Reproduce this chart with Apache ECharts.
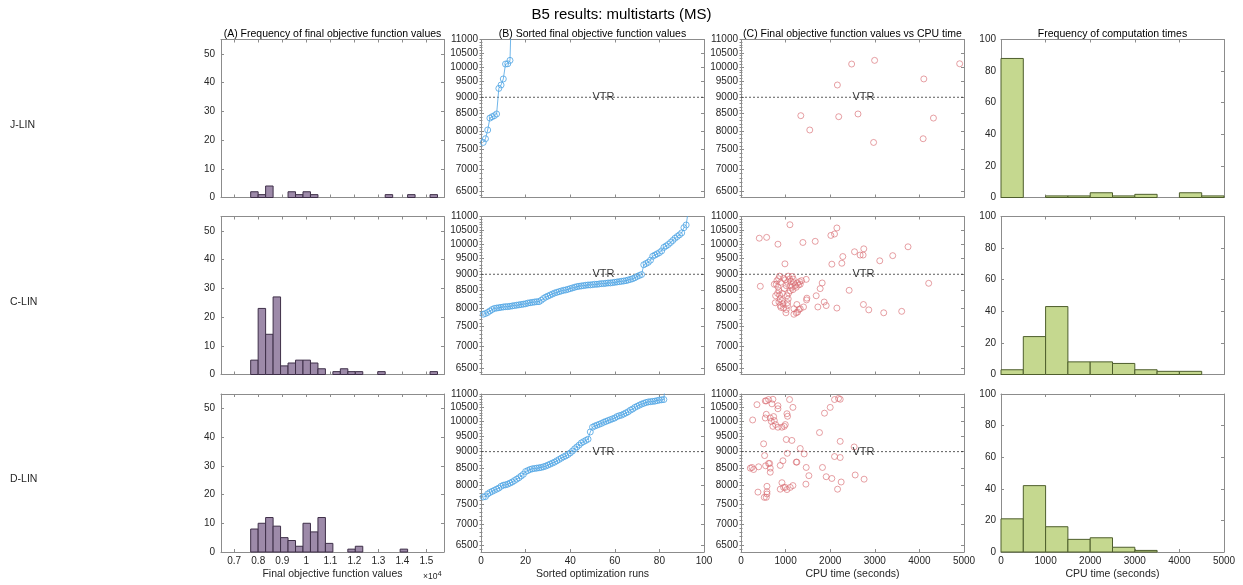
<!DOCTYPE html>
<html>
<head>
<meta charset="utf-8">
<script src="https://cdn.jsdelivr.net/npm/echarts@6/dist/echarts.min.js"></script>
<style>
  html, body { margin: 0; padding: 0; background: #ffffff; }
  #chart { width: 1243px; height: 585px; }
</style>
</head>
<body>
<div id="chart"></div>
<script>
// ---------- data ----------
const figureTitle = 'B5 results: multistarts (MS)';
const rowLabels = ['J-LIN', 'C-LIN', 'D-LIN'];
const panelTitles = [
  '(A) Frequency of final objective function values',
  '(B) Sorted final objective function values',
  '(C) Final objective function values vs CPU time',
  'Frequency of computation times'
];
const xAxisNames = [
  'Final objective function values',
  'Sorted optimization runs',
  'CPU time (seconds)',
  'CPU time (seconds)'
];

// (A) histogram of final objective values: shared bin edges
const objBinStart = 7685;
const objBinWidth = 311;
const objCountsJ = [2, 1, 4, 0, 0, 2, 1, 2, 1, 0, 0, 0, 0, 0, 0, 0, 0, 0, 1, 0, 0, 1, 0, 0, 1];
const objCountsC = [5, 23, 14, 27, 3, 4, 5, 5, 4, 2, 0, 1, 2, 1, 1, 0, 0, 1, 0, 0, 0, 0, 0, 0, 1];
const objCountsD = [8, 10, 12, 9, 5, 4, 2, 10, 7, 12, 3, 0, 0, 1, 2, 0, 0, 0, 0, 0, 1, 0, 0, 0, 0];
const objHistTicks = [7000, 8000, 9000, 10000, 11000, 12000, 13000, 14000, 15000];

// (B) sorted final objective values per run
const sortedJ = [7690, 7790, 8030, 8370, 8410, 8440, 8490, 9280, 9390, 9590, 10100, 10110, 10230,
  13400, 14300, 15300];
const sortedC = [7830, 7850, 7880, 7920, 7960,
  7990, 8000, 8010, 8020, 8030, 8040, 8040, 8050, 8060, 8070, 8080, 8090, 8100, 8110, 8120, 8140,
  8150, 8160, 8170, 8180, 8180, 8220, 8270,
  8310, 8340, 8370, 8400, 8430, 8450, 8470, 8490, 8510, 8520, 8540, 8560, 8580, 8600,
  8620, 8630, 8640, 8650, 8660, 8670, 8670, 8680, 8690, 8690, 8700, 8710, 8710, 8720, 8730, 8730,
  8740, 8750, 8760, 8770, 8780, 8790, 8800, 8820, 8840, 8860, 8890,
  8930, 8960, 8990,
  9300, 9340, 9380, 9450,
  9580, 9620, 9660, 9700, 9760,
  9880, 9930, 9980, 10050, 10120,
  10200, 10260, 10320, 10390,
  10580, 10680,
  11250, 11500, 11600, 11900, 12200, 13200, 15300];
const sortedD = [7690, 7700, 7770, 7810, 7840, 7870, 7900, 7930,
  7980, 8010, 8020, 8040, 8070, 8100, 8140, 8180, 8220, 8270,
  8320, 8400, 8430, 8460, 8480, 8490, 8500, 8510, 8520, 8540, 8560, 8590,
  8620, 8650, 8680, 8720, 8760, 8800, 8840, 8870, 8910,
  8960, 9020, 9090, 9150, 9210,
  9280, 9320, 9360, 9400,
  9640, 9800,
  9840, 9870, 9900, 9930, 9970, 10000, 10030, 10060, 10090, 10120,
  10170, 10200, 10220, 10260, 10300, 10340, 10400,
  10440, 10500, 10540, 10580, 10620, 10650, 10680, 10700, 10710, 10720, 10730, 10750,
  10770, 10780, 10790,
  11900, 12100, 12200, 14000];

// (C) [CPU time (s), final objective value] per run
const cpuObjJ = [[1341, 8440], [1542, 8030], [2161, 9390], [2191, 8410], [2481, 10100], [2623, 8490],
  [2996, 10230], [2973, 7690], [4099, 9590], [4084, 7790], [4315, 8370], [4903, 10110]];
const cpuObjC = [
  [410, 10200], [575, 10230], [828, 9990], [433, 8630], [746, 8690], [768, 8150], [985, 9330],
  [1097, 10690], [1388, 10050], [1664, 10090], [2015, 10300], [2097, 10350], [2150, 10570],
  [2037, 9320], [2261, 9350], [2283, 9570], [2425, 8510], [2545, 9730], [2671, 9620], [2738, 9620],
  [2753, 9830], [3111, 9430], [3402, 9600], [3745, 9900], [4208, 8720], [2745, 8100], [2865, 7950],
  [3200, 7870], [3603, 7910], [2150, 8000], [1865, 8170], [1910, 8070], [1723, 8030], [1686, 8350],
  [1775, 8560], [1820, 8730], [1470, 8230], [1477, 8280], [1462, 8840], [1358, 8800], [1402, 8030],
  [1328, 7980], [1253, 8100], [1238, 7870], [1186, 7830],
  [791, 8690], [806, 8800], [843, 8860], [865, 8940], [888, 8750], [828, 8610], [850, 8500],
  [820, 8420], [865, 8370], [776, 8350], [880, 8260], [918, 8210], [850, 8170], [940, 8120],
  [880, 8070], [895, 8020], [955, 8000], [1015, 7960], [1007, 7870], [1044, 8070], [1044, 8150],
  [1059, 8260], [1030, 8350], [1067, 8430], [1104, 8500], [970, 8560], [1015, 8650], [1044, 8750],
  [993, 8830], [1089, 8850], [1119, 8780], [1149, 8930], [1171, 8850], [1179, 8740], [1216, 8650],
  [1238, 8600], [1291, 8670], [1141, 8600], [1104, 8650], [1164, 8530], [1268, 8730], [1328, 8690],
  [1313, 8770], [926, 8420], [955, 8870], [1059, 8940], [1186, 7980], [1268, 7890], [1298, 7960]];
const cpuObjD = [
  [358, 10600], [246, 8520], [209, 8500], [283, 8460], [395, 8540], [261, 10050], [380, 7820],
  [507, 9250], [544, 10120], [567, 10250], [544, 10740], [567, 10740], [619, 10790], [694, 10630],
  [656, 10120], [731, 10170], [746, 10030], [679, 10000], [828, 10450], [828, 10560], [716, 10800],
  [530, 8880], [552, 8570], [619, 8640], [642, 8640], [656, 8500], [656, 8380], [522, 7680],
  [567, 7680], [582, 7770], [582, 7830], [582, 7980], [716, 9830], [828, 9800], [776, 9890],
  [918, 9800], [970, 9830], [993, 9890], [1030, 10270], [1044, 10180], [1089, 10790], [1164, 10500],
  [880, 8580], [940, 8720], [1037, 8950], [1015, 9390], [1141, 9360], [918, 8080], [880, 7900],
  [955, 7950], [993, 7950], [1030, 7890], [1104, 7950], [1164, 8000], [1238, 8680], [1253, 8680],
  [1328, 9100], [1417, 8930], [1462, 8520], [1455, 8040], [1522, 8280], [1760, 9620], [1827, 8520],
  [1872, 10290], [1910, 8250], [2000, 10500], [2037, 8200], [2097, 10790], [2165, 7900],
  [2186, 10830], [2224, 10800], [2224, 9330], [2224, 8820], [2097, 8850], [2246, 8100],
  [2537, 9150], [2560, 8300], [2760, 8180]];

const vtrValue = 9000;
const objTickValues = [6500, 7000, 7500, 8000, 8500, 9000, 9500, 10000, 10500, 11000];

// (D) histogram of CPU times
const cpuBinWidth = 500;
const cpuCountsJ = [88, 0, 1, 1, 3, 1, 2, 0, 3, 1];
const cpuCountsC = [3, 24, 43, 8, 8, 7, 3, 2, 2, 0];
const cpuCountsD = [21, 42, 16, 8, 9, 3, 1, 0, 0, 0];

const objCounts = [objCountsJ, objCountsC, objCountsD];
const sortedVals = [sortedJ, sortedC, sortedD];
const cpuObj = [cpuObjJ, cpuObjC, cpuObjD];
const cpuCounts = [cpuCountsJ, cpuCountsC, cpuCountsD];

// ---------- layout & style ----------
const FONT = '"Liberation Sans", Arial, Helvetica, sans-serif';
const AXIS_COLOR = '#8c8c8c';
const TEXT_COLOR = '#262626';
const COL_LEFT = [221, 481, 741, 1001];
const ROW_TOP = [39.5, 216.5, 394];
const PANEL_W = 223;
const PANEL_H = 158;

const PURPLE_FILL = '#9d8aa9';
const PURPLE_EDGE = '#3e2f48';
const GREEN_FILL = '#c5d88f';
const GREEN_EDGE = '#4e5e2c';
const BLUE = '#4ca3e3';
const RED = '#d76a70';

const OBJ_AXIS_MIN = 6350;
const OBJ_AXIS_MAX = 11000;
const LOG_MIN = Math.log10(OBJ_AXIS_MIN);
const LOG_MAX = Math.log10(OBJ_AXIS_MAX);
const logTicks = objTickValues.map(v => Math.log10(v));
// minor ticks of the logarithmic objective axis, one every 100 units
const logMinorTicks = [];
for (let v = 6400; v <= OBJ_AXIS_MAX; v += 100) logMinorTicks.push(Math.log10(v));

function histRenderer(fill, stroke) {
  return function (params, api) {
    const topLeft = api.coord([api.value(0), api.value(2)]);
    const bottomRight = api.coord([api.value(1), 0]);
    return {
      type: 'rect',
      shape: {
        x: topLeft[0], y: topLeft[1],
        width: bottomRight[0] - topLeft[0],
        height: bottomRight[1] - topLeft[1]
      },
      style: { fill: fill, stroke: stroke, lineWidth: 1 }
    };
  };
}

function axisCommon(gridIndex, position, opts) {
  const showLabel = !!opts.showLabel;
  const ax = {
    type: 'value',
    gridIndex: gridIndex,
    position: position,
    min: opts.min,
    max: opts.max,
    silent: true,
    axisLine: { show: true, onZero: false, lineStyle: { color: AXIS_COLOR, width: 1 } },
    axisTick: { show: true, inside: true, length: 3, lineStyle: { color: AXIS_COLOR, width: 1 } },
    axisLabel: {
      show: showLabel, color: TEXT_COLOR, fontSize: 10, fontFamily: FONT,
      margin: opts.margin || 4, hideOverlap: false, showMinLabel: true, showMaxLabel: true,
      formatter: opts.formatter || (v => String(v))
    },
    splitLine: { show: false },
    minorTick: { show: false }
  };
  if (opts.interval) ax.interval = opts.interval;
  if (opts.customValues) {
    ax.axisTick.customValues = opts.customValues;
    ax.axisLabel.customValues = opts.customValues;
  }
  if (opts.name) {
    ax.name = opts.name;
    ax.nameLocation = 'middle';
    ax.nameGap = opts.nameGap;
    ax.nameTextStyle = { color: TEXT_COLOR, fontSize: 10.5, fontFamily: FONT };
  }
  return ax;
}

function minorTickAxis(gridIndex, position) {
  return {
    type: 'value', gridIndex: gridIndex, position: position,
    min: LOG_MIN, max: LOG_MAX, silent: true,
    axisLine: { show: false },
    axisTick: { show: true, inside: true, length: 1.5, customValues: logMinorTicks,
      lineStyle: { color: AXIS_COLOR, width: 1 } },
    axisLabel: { show: false, customValues: logMinorTicks },
    splitLine: { show: false }
  };
}

const grids = [];
const xAxes = [];
const yAxes = [];
const series = [];
const titles = [{
  text: figureTitle, left: 'center', top: 7.5, padding: 0,
  textStyle: { fontSize: 15, fontWeight: 'normal', color: '#000', fontFamily: FONT }
}];
const graphics = [];

for (let c = 0; c < 4; c++) {
  titles.push({
    text: panelTitles[c],
    left: COL_LEFT[c] + PANEL_W / 2,
    top: 28.5,
    padding: 0,
    textAlign: 'center',
    textStyle: { fontSize: 10.5, fontWeight: 'normal', color: '#000', fontFamily: FONT }
  });
}

for (let r = 0; r < 3; r++) {
  const bottomRow = r === 2;
  for (let c = 0; c < 4; c++) {
    const g = grids.length;
    grids.push({ left: COL_LEFT[c], top: ROW_TOP[r], width: PANEL_W, height: PANEL_H });

    let xOpts, yOpts;
    if (c === 0) {
      xOpts = { min: 6450, max: 15730, customValues: objHistTicks,
        formatter: v => String(+(v / 10000).toFixed(1)) };
      yOpts = { min: 0, max: 55, customValues: [0, 10, 20, 30, 40, 50], margin: 6 };
    } else if (c === 1) {
      xOpts = { min: 0, max: 100, interval: 20 };
      yOpts = { min: LOG_MIN, max: LOG_MAX, customValues: logTicks, margin: 3,
        formatter: v => String(Math.round(Math.pow(10, v))) };
    } else if (c === 2) {
      xOpts = { min: 0, max: 5000, interval: 1000 };
      yOpts = { min: LOG_MIN, max: LOG_MAX, customValues: logTicks, margin: 3,
        formatter: v => String(Math.round(Math.pow(10, v))) };
    } else {
      xOpts = { min: 0, max: 5000, interval: 1000 };
      yOpts = { min: 0, max: 100, interval: 20, margin: 5 };
    }

    const xi = xAxes.length;
    xAxes.push(axisCommon(g, 'bottom', Object.assign({}, xOpts, {
      showLabel: bottomRow,
      name: bottomRow ? xAxisNames[c] : '',
      nameGap: 17
    })));
    xAxes.push(axisCommon(g, 'top', Object.assign({}, xOpts, { showLabel: false })));
    const yi = yAxes.length;
    yAxes.push(axisCommon(g, 'left', Object.assign({}, yOpts, { showLabel: true })));
    yAxes.push(axisCommon(g, 'right', Object.assign({}, yOpts, { showLabel: false })));

    if (c === 0) {
      const data = [];
      objCounts[r].forEach((n, i) => {
        if (n > 0) data.push([objBinStart + i * objBinWidth, objBinStart + (i + 1) * objBinWidth, n]);
      });
      series.push({
        type: 'custom', xAxisIndex: xi, yAxisIndex: yi, silent: true,
        renderItem: histRenderer(PURPLE_FILL, PURPLE_EDGE),
        encode: { x: [0, 1], y: 2 },
        data: data
      });
    } else if (c === 3) {
      const data = [];
      cpuCounts[r].forEach((n, i) => {
        if (n > 0) data.push([i * cpuBinWidth, (i + 1) * cpuBinWidth, n]);
      });
      series.push({
        type: 'custom', xAxisIndex: xi, yAxisIndex: yi, silent: true,
        renderItem: histRenderer(GREEN_FILL, GREEN_EDGE),
        encode: { x: [0, 1], y: 2 },
        data: data
      });
    } else {
      yAxes.push(minorTickAxis(g, 'left'));
      yAxes.push(minorTickAxis(g, 'right'));

      const xMax = c === 1 ? 100 : 5000;
      const vtrLog = Math.log10(vtrValue);
      // value-to-reach reference line
      series.push({
        type: 'line', xAxisIndex: xi, yAxisIndex: yi, silent: true,
        data: [[0, vtrLog], [xMax, vtrLog]],
        symbol: 'none',
        lineStyle: { color: '#333333', width: 0.8, type: [2, 2] },
        z: 1
      });
      if (c === 1) {
        series.push({
          type: 'line', xAxisIndex: xi, yAxisIndex: yi, silent: true, clip: true,
          data: sortedVals[r].map((v, i) => [i + 1, Math.log10(v)]),
          symbol: 'circle', symbolSize: 6, showAllSymbol: true,
          lineStyle: { color: BLUE, width: 0.8 },
          itemStyle: { color: 'rgba(255,255,255,0)', borderColor: BLUE, borderWidth: 0.8 },
          z: 2
        });
      } else {
        series.push({
          type: 'scatter', xAxisIndex: xi, yAxisIndex: yi, silent: true, clip: true,
          data: cpuObj[r].map(p => [p[0], Math.log10(p[1])]),
          symbol: 'circle', symbolSize: 6,
          itemStyle: { color: 'rgba(255,255,255,0)', borderColor: RED, borderWidth: 0.8 },
          z: 2
        });
      }
      // "VTR" annotation starting at the middle of the x range
      series.push({
        type: 'scatter', xAxisIndex: xi, yAxisIndex: yi, silent: true,
        data: [[xMax / 2, vtrLog]],
        symbolSize: 0,
        label: {
          show: true, position: 'right', distance: 0, formatter: 'VTR',
          color: '#000', fontSize: 11, fontFamily: FONT
        },
        z: 3
      });
    }
  }
  // row label
  graphics.push({
    type: 'text', left: 10, top: ROW_TOP[r] + PANEL_H / 2 + 1,
    style: { text: rowLabels[r], fill: TEXT_COLOR, fontSize: 10.5, fontFamily: FONT }
  });
}

// exponent marker for the objective-value axis
graphics.push({
  type: 'text', left: 423, top: 570,
  style: {
    text: '×10{sup|4}',
    fill: TEXT_COLOR, fontSize: 8.5, fontFamily: FONT,
    rich: { sup: { fontSize: 7.5, verticalAlign: 'top', padding: [0, 0, 6, 0] } }
  }
});

const chart = echarts.init(document.getElementById('chart'), null, { renderer: 'canvas' });
chart.setOption({
  animation: false,
  backgroundColor: '#ffffff',
  title: titles,
  grid: grids,
  xAxis: xAxes,
  yAxis: yAxes,
  series: series,
  graphic: graphics
});
</script>
</body>
</html>
